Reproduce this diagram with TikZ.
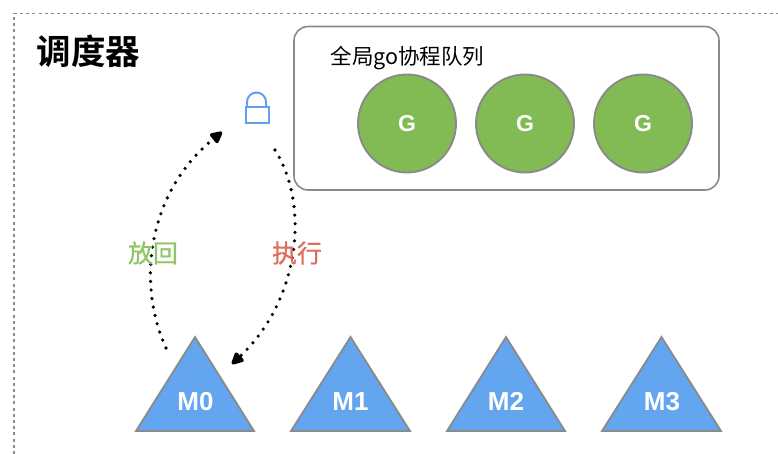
\documentclass[tikz,border=0pt]{standalone}
\usepackage{fontspec}
\setmainfont{Liberation Sans}
\newfontfamily\cjk{Noto Sans CJK SC}
\newfontfamily\cjkm[FakeBold=0.6]{Noto Sans CJK SC}
\newfontfamily\cjkb{Noto Sans CJK SC Bold}
\usetikzlibrary{arrows.meta}
\definecolor{edgegray}{HTML}{8A8A8A}
\definecolor{mblue}{HTML}{64A5F0}
\definecolor{ggreen}{HTML}{82BB54}
\definecolor{lockblue}{HTML}{5F9FF5}
\definecolor{lgreen}{HTML}{8CC665}
\definecolor{lred}{HTML}{E06C5C}
\tikzset{
  frameline/.style={draw=edgegray,line width=1.6pt,dash pattern=on 3pt off 3.2pt},
  queuebox/.style={draw=edgegray,line width=1.6pt,rounded corners=14pt},
  gnode/.style={circle,draw=edgegray,line width=1.9pt,fill=ggreen,minimum size=98pt,inner sep=0pt,text=white,font=\fontsize{23}{23}\selectfont\bfseries},
  mtri/.style={draw=edgegray,line width=1.8pt,fill=mblue,line join=miter},
  mlabel/.style={text=white,font=\fontsize{26}{26}\selectfont\bfseries,inner sep=0pt,anchor=base},
  dotarrow/.style={line width=3.6pt,line cap=round,dash pattern=on 0pt off 8.6pt,-{Triangle[length=14pt,width=13pt,round=false]}},
  actlabel/.style={font=\cjkm\fontsize{25}{25}\selectfont,inner sep=0pt}
}
\begin{document}
\begin{tikzpicture}[x=1pt,y=-1pt]
\useasboundingbox (0,0) rectangle (778,454);
% outer dashed frame
\draw[frameline] (14,454) -- (14,13.5) -- (778,13.5);
\node[font=\cjkb\fontsize{34.5}{34.5}\selectfont,inner sep=0pt] (title) at (88.5,51.5) {调度器};
% queue
\draw[queuebox] (294,26.5) rectangle (719,190);
\node[font=\cjk\fontsize{21.5}{21.5}\selectfont,inner sep=0pt] (qlabel) at (407.5,58.5) {全局go协程队列};
\node[gnode] (g1) at (407,123.5) {G};
\node[gnode] (g2) at (525,123.5) {G};
\node[gnode] (g3) at (643,123.5) {G};
% lock
\node[draw=lockblue,line width=2pt,minimum width=23pt,minimum height=16pt,inner sep=0pt] (lock) at (257.5,115) {};
\draw[lockblue,line width=2pt] (lock.north west) ++(2,0) -- ++(0,-4) arc[start angle=180,end angle=0,radius=9.5pt] -- ++(0,4);
% triangles
\draw[mtri] (195,337) -- (254,431) -- (136,431) -- cycle;
\node[mlabel] (m0) at (195.5,410) {M0};
\draw[mtri] (350.5,337) -- (410,431) -- (291,431) -- cycle;
\node[mlabel] (m1) at (350.5,410) {M1};
\draw[mtri] (506,337) -- (565,431) -- (447,431) -- cycle;
\node[mlabel] (m2) at (506,410) {M2};
\draw[mtri] (661.5,337) -- (721,431) -- (602,431) -- cycle;
\node[mlabel] (m3) at (662,410) {M3};
% connector ends
\coordinate (m0out) at (166,348);
\coordinate (lockin) at (222,132);
\coordinate (lockout) at (275,150);
\coordinate (m0in) at (232,364);
\draw[dotarrow] (m0out) .. controls (135,280) and (150,190) .. (lockin);
\draw[dotarrow] (lockout) .. controls (310,205) and (300,300) .. (m0in);
\node[actlabel,text=lgreen] (back) at (153,253) {放回};
\node[actlabel,text=lred] (run) at (297,253) {执行};
\end{tikzpicture}
\end{document}
